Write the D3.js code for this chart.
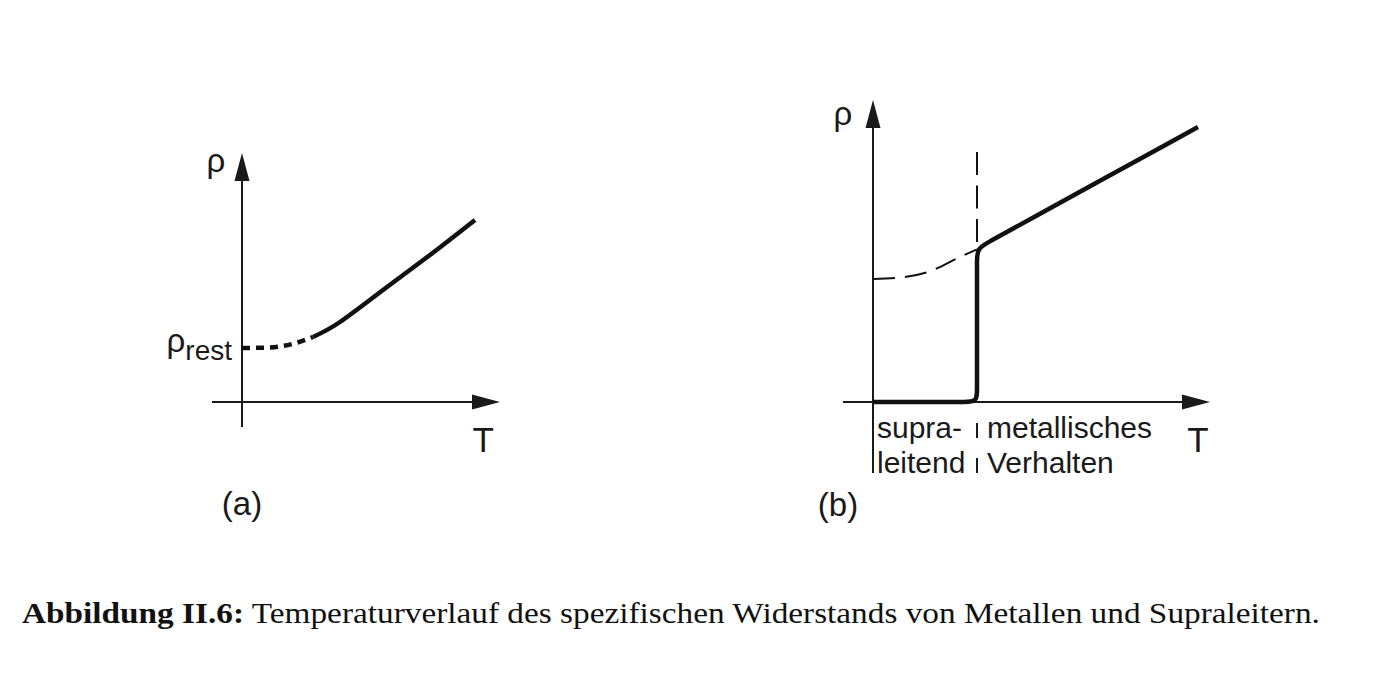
<!DOCTYPE html>
<html>
<head>
<meta charset="utf-8">
<script src="https://cdn.jsdelivr.net/npm/d3@7"></script>
<style>
  html, body { margin: 0; padding: 0; background: #fff; }
  svg { display: block; }
</style>
</head>
<body>
<svg id="chart" width="1390" height="684"></svg>
<script>
// ---------- data (T, rho in arbitrary units) ----------
// Panel (a): normal metal
const rhoRestA = 2.16;
const metalLowT = [[0, 2.16], [1.04, 2.18], [2.0, 2.32], [2.84, 2.6]];                   // dashed part
const metalHighT = [[2.84, 2.6], [3.92, 3.2], [5.64, 4.48], [7.52, 5.88], [9.32, 7.28]];   // solid part

// Panel (b): superconductor
const Tc = 4.16;
const supraCurve = [[0, 0], [3.0, 0], [3.66, 0], [4.16, 0], [4.16, 0.5], [4.16, 1.5],
                    [4.16, 5.0], [4.16, 5.64], [4.16, 6.14], [4.66, 6.415], [5.5, 6.88], [13, 11.0]];
const normalExtrap = [[0, 4.92], [0.88, 4.96], [2.2, 5.2], [3.48, 5.8], [4.16, 6.1]];
const tcLine = [[4.16, 6.3], [4.16, 10.0]];

// labels
const axisLabelY = "ρ";
const axisLabelX = "T";
const panelLabels = ["(a)", "(b)"];
const regionLeft = ["supra-", "leitend"];
const regionRight = ["metallisches", "Verhalten"];
const captionBold = "Abbildung II.6:";
const captionText = " Temperaturverlauf des spezifischen Widerstands von Metallen und Supraleitern.";

// ---------- drawing ----------
const svg = d3.select("#chart");
const sans = "'Liberation Sans', Arial, Helvetica, sans-serif";
const ink = "#1a1a1a";

const xa = d3.scaleLinear().domain([0, 10]).range([242, 492]);
const ya = d3.scaleLinear().domain([0, 10]).range([402, 152]);
const xb = d3.scaleLinear().domain([0, 10]).range([873, 1123]);
const yb = d3.scaleLinear().domain([0, 10]).range([402, 152]);

function arrowAxes(g, x, y, xMin, xMax, yMin, yMax) {
  const L = 28, H = 7.5;
  g.append("line").attr("x1", x(xMin)).attr("x2", x(xMax) - L + 2)
    .attr("y1", y(0)).attr("y2", y(0)).attr("stroke", ink).attr("stroke-width", 2);
  g.append("path").attr("d", d3.line()([[x(xMax), y(0)], [x(xMax) - L, y(0) - H], [x(xMax) - L, y(0) + H]]) + "Z")
    .attr("fill", ink);
  g.append("line").attr("x1", x(0)).attr("x2", x(0))
    .attr("y1", y(yMin)).attr("y2", y(yMax) + L - 2).attr("stroke", ink).attr("stroke-width", 2);
  g.append("path").attr("d", d3.line()([[x(0), y(yMax)], [x(0) - H, y(yMax) + L], [x(0) + H, y(yMax) + L]]) + "Z")
    .attr("fill", ink);
}

// Panel (a)
const ga = svg.append("g");
arrowAxes(ga, xa, ya, -1.2, 10.32, -1.0, 9.96);
const lineA = d3.line().x(d => xa(d[0])).y(d => ya(d[1]));
ga.append("path").attr("d", lineA.curve(d3.curveMonotoneX)(metalLowT)).attr("fill", "none")
  .attr("stroke", "#111").attr("stroke-width", 4.5).attr("stroke-dasharray", "8,6");
ga.append("path").attr("d", lineA.curve(d3.curveNatural)(metalHighT)).attr("fill", "none")
  .attr("stroke", "#111").attr("stroke-width", 4.5);

ga.append("text").attr("x", xa(0) - 26).attr("y", ya(9.2)).attr("text-anchor", "middle")
  .attr("font-family", sans).attr("font-size", 33).attr("fill", ink).text(axisLabelY);
ga.append("text").attr("x", xa(9.65)).attr("y", ya(-2.0)).attr("text-anchor", "middle")
  .attr("font-family", sans).attr("font-size", 35).attr("fill", ink).text(axisLabelX);
const rl = ga.append("text").attr("x", xa(0) - 10).attr("y", ya(rhoRestA) + 4).attr("text-anchor", "end")
  .attr("font-family", sans).attr("font-size", 28).attr("fill", ink);
rl.append("tspan").attr("font-size", 33).text("ρ");
rl.append("tspan").attr("dy", 8).text("rest");
ga.append("text").attr("x", xa(0)).attr("y", 515).attr("text-anchor", "middle")
  .attr("font-family", sans).attr("font-size", 33).attr("fill", ink).text(panelLabels[0]);

// Panel (b)
const gb = svg.append("g");
arrowAxes(gb, xb, yb, -1.2, 13.48, -2.84, 12.08);
gb.append("path").attr("d", d3.line().x(d => xb(d[0])).y(d => yb(d[1])).curve(d3.curveMonotoneX)(normalExtrap))
  .attr("fill", "none").attr("stroke", "#111").attr("stroke-width", 2).attr("stroke-dasharray", "22,10");
gb.append("path").attr("d", d3.line().x(d => xb(d[0])).y(d => yb(d[1]))(tcLine.slice().reverse()))
  .attr("fill", "none").attr("stroke", "#111").attr("stroke-width", 2).attr("stroke-dasharray", "23,10.5");
gb.append("path").attr("d", d3.line().x(d => xb(d[0])).y(d => yb(d[1])).curve(d3.curveBasis)(supraCurve))
  .attr("fill", "none").attr("stroke", "#111").attr("stroke-width", 4.5);

gb.append("text").attr("x", xb(0) - 30).attr("y", yb(11.1)).attr("text-anchor", "middle")
  .attr("font-family", sans).attr("font-size", 33).attr("fill", ink).text(axisLabelY);
gb.append("text").attr("x", xb(13.0)).attr("y", yb(-2.0)).attr("text-anchor", "middle")
  .attr("font-family", sans).attr("font-size", 35).attr("fill", ink).text(axisLabelX);
gb.append("text").attr("x", xb(-1.4)).attr("y", 516).attr("text-anchor", "middle")
  .attr("font-family", sans).attr("font-size", 33).attr("fill", ink).text(panelLabels[1]);

const baselines = [438, 473];
regionLeft.forEach((t, i) => {
  gb.append("text").attr("x", xb(0) + 4).attr("y", baselines[i])
    .attr("font-family", sans).attr("font-size", 30).attr("fill", ink).text(t);
});
regionRight.forEach((t, i) => {
  gb.append("text").attr("x", xb(Tc) + 10).attr("y", baselines[i])
    .attr("font-family", sans).attr("font-size", 30).attr("fill", ink).text(t);
  gb.append("line").attr("x1", xb(Tc)).attr("x2", xb(Tc))
    .attr("y1", baselines[i] - 15).attr("y2", baselines[i])
    .attr("stroke", ink).attr("stroke-width", 2);
});

// Caption (horizontally stretched to the reference width)
const cap = svg.append("text").attr("x", 0).attr("y", 0)
  .attr("font-family", "'Liberation Serif', 'Times New Roman', serif").attr("font-size", 29).attr("fill", "#111");
cap.append("tspan").attr("font-weight", "bold").text(captionBold);
cap.append("tspan").text(captionText);
const targetW = 1298;
const w0 = cap.node().getComputedTextLength();
cap.attr("transform", `translate(22,623) scale(${(targetW / w0).toFixed(4)},1)`);
</script>
</body>
</html>
